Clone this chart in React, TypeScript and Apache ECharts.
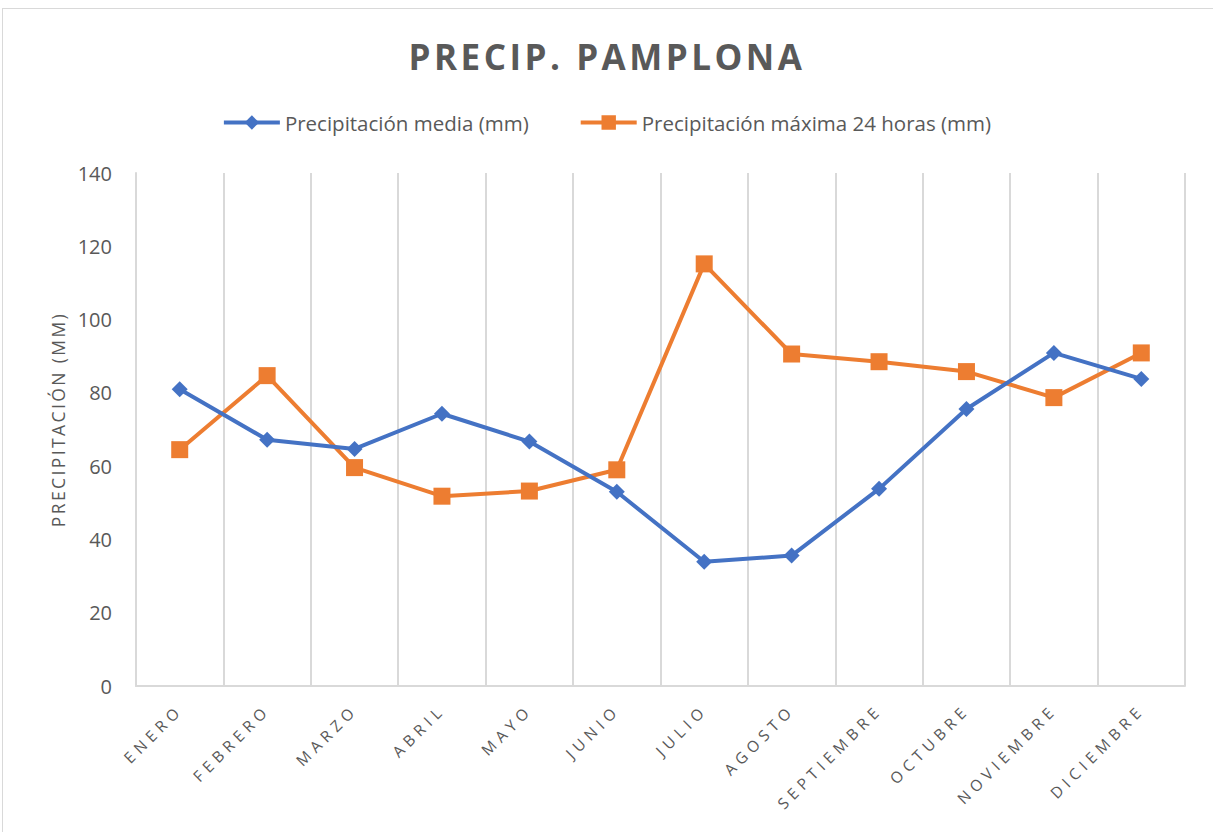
import React, { useEffect, useRef } from "react";
import * as echarts from "echarts";

const months = ["ENERO", "FEBRERO", "MARZO", "ABRIL", "MAYO", "JUNIO", "JULIO", "AGOSTO", "SEPTIEMBRE", "OCTUBRE", "NOVIEMBRE", "DICIEMBRE"];
const mediaValues = [81, 67.2, 64.7, 74.3, 66.7, 53, 33.9, 35.6, 53.8, 75.6, 90.9, 83.8];
const maximaValues = [64.5, 84.7, 59.6, 51.8, 53.2, 59, 115.2, 90.6, 88.5, 85.8, 78.7, 90.9];
const seriesNames = ["Precipitación media (mm)", "Precipitación máxima 24 horas (mm)"];
const titleText = "PRECIP. PAMPLONA";
const yAxisName = "PRECIPITACIÓN (MM)";

const FONT = "'Open Sans', 'Noto Sans', sans-serif";
const GRAY = "#595959";

export default function App() {
  const ref = useRef<HTMLDivElement>(null);
  useEffect(() => {
    if (!ref.current) return;
    const el = ref.current;
    const chart = echarts.init(el, undefined, { renderer: "svg" });
    chart.setOption({
      animation: false,
      backgroundColor: "transparent",
      graphic: [
        {
          type: "text",
          x: 607,
          y: 56,
          style: {
            text: titleText,
            fontFamily: FONT,
            fontSize: 35,
            fontWeight: "bold",
            fill: GRAY,
            textAlign: "center",
            textVerticalAlign: "middle",
          },
        },
      ],
      legend: {
        top: 107,
        left: "center",
        itemGap: 50,
        itemWidth: 56,
        itemHeight: 18,
        lineStyle: { width: 4 },
        textStyle: { fontFamily: FONT, fontSize: 20.5, color: GRAY },
        data: seriesNames,
      },
      grid: { left: 136, right: 28, top: 173, bottom: 146, containLabel: false },
      xAxis: {
        type: "category",
        data: months,
        boundaryGap: true,
        axisLine: { show: true, lineStyle: { color: "#d9d9d9", width: 2 } },
        axisTick: { show: false },
        splitLine: { show: true, lineStyle: { color: "#d9d9d9", width: 2 } },
        axisLabel: {
          rotate: 45,
          interval: 0,
          margin: 21,
          fontFamily: FONT,
          fontSize: 15.5,
          color: GRAY,
        },
      },
      yAxis: {
        type: "value",
        min: 0,
        max: 140,
        interval: 20,
        name: yAxisName,
        nameLocation: "middle",
        nameGap: 68,
        nameRotate: 90,
        nameTextStyle: { fontFamily: FONT, fontSize: 17.5, color: GRAY, padding: [0, 0, 0, 20] },
        axisLine: { show: true, lineStyle: { color: "#d9d9d9", width: 2 } },
        axisTick: { show: false },
        splitLine: { show: false },
        axisLabel: { fontFamily: FONT, fontSize: 20, color: GRAY, margin: 24 },
      },
      series: [
        {
          name: seriesNames[0],
          type: "line",
          data: mediaValues,
          symbol: "diamond",
          symbolSize: 16,
          lineStyle: { color: "#4472C4", width: 4 },
          itemStyle: { color: "#4472C4" },
          z: 3,
        },
        {
          name: seriesNames[1],
          type: "line",
          data: maximaValues,
          symbol: "rect",
          symbolSize: 17,
          lineStyle: { color: "#ED7D31", width: 4 },
          itemStyle: { color: "#ED7D31" },
          z: 2,
        },
      ],
    });

    const applySpacing = () => {
      const texts = el.querySelectorAll("text");
      texts.forEach((t) => {
        const s = (t.textContent || "").trim();
        if (months.indexOf(s) >= 0) {
          (t as SVGTextElement).style.letterSpacing = "5px";
        } else if (s === titleText) {
          (t as SVGTextElement).style.letterSpacing = "3.5px";
        } else if (s === yAxisName) {
          (t as SVGTextElement).style.letterSpacing = "2.4px";
        }
      });
    };
    applySpacing();
    chart.on("finished", applySpacing);
    const timer = setTimeout(applySpacing, 50);
    return () => {
      clearTimeout(timer);
      chart.dispose();
    };
  }, []);
  return (
    <div
      style={{
        position: "absolute",
        left: 2,
        top: 8,
        width: 1240,
        height: 840,
        border: "1px solid #d9d9d9",
        boxSizing: "border-box",
        background: "#fff",
      }}
    >
      <div ref={ref} style={{ position: "absolute", left: -3, top: -9, width: 1213, height: 832 }} />
    </div>
  );
}
